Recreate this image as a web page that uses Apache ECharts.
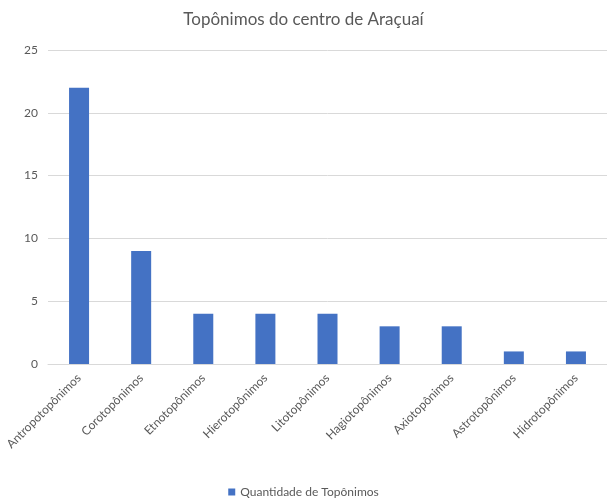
<!DOCTYPE html>
<html><head><meta charset="utf-8">
<script src="https://cdn.jsdelivr.net/npm/echarts@6/dist/echarts.min.js"></script>
<style>html,body{margin:0;padding:0;background:#fff}#c{width:607px;height:502px}</style>
</head><body><div id="c"></div>
<script>
const categories = ["Antropotopônimos","Corotopônimos","Etnotopônimos","Hierotopônimos","Litotopônimos","Hagiotopônimos","Axiotopônimos","Astrotopônimos","Hidrotopônimos"];
const values = [22, 9, 4, 4, 4, 3, 3, 1, 1];
const seriesName = "Quantidade de Topônimos";
const titleText = "Topônimos do centro de Araçuaí";

const chart = echarts.init(document.getElementById('c'), null, {renderer:'canvas'});
const font = 'Lato, "Open Sans", sans-serif';
chart.setOption({
  animation:false,
  textStyle:{fontFamily:font},
  title:{text:titleText,left:'center',top:6,textStyle:{fontFamily:font,fontSize:17,fontWeight:'normal',color:'#595959'}},
  legend:{bottom:-1,left:'center',itemWidth:7,itemHeight:7,itemGap:4,icon:'rect',
    textStyle:{fontFamily:font,fontSize:12,color:'#595959'},data:[seriesName]},
  grid:{left:48,top:50,width:567,height:314,containLabel:false},
  xAxis:{type:'category',data:categories,
    axisLine:{lineStyle:{color:'#d9d9d9'}},axisTick:{show:false},
    axisLabel:{rotate:45,fontFamily:font,fontSize:12,color:'#595959',margin:12,interval:0}},
  yAxis:{type:'value',min:0,max:25,interval:5,
    axisLine:{show:false},axisTick:{show:false},
    splitLine:{lineStyle:{color:'#d9d9d9'}},
    axisLabel:{fontFamily:font,fontSize:12,color:'#595959',margin:10}},
  series:[{name:seriesName,type:'bar',data:values,barWidth:20,itemStyle:{color:'#4472C4'}}]
});
</script></body></html>
